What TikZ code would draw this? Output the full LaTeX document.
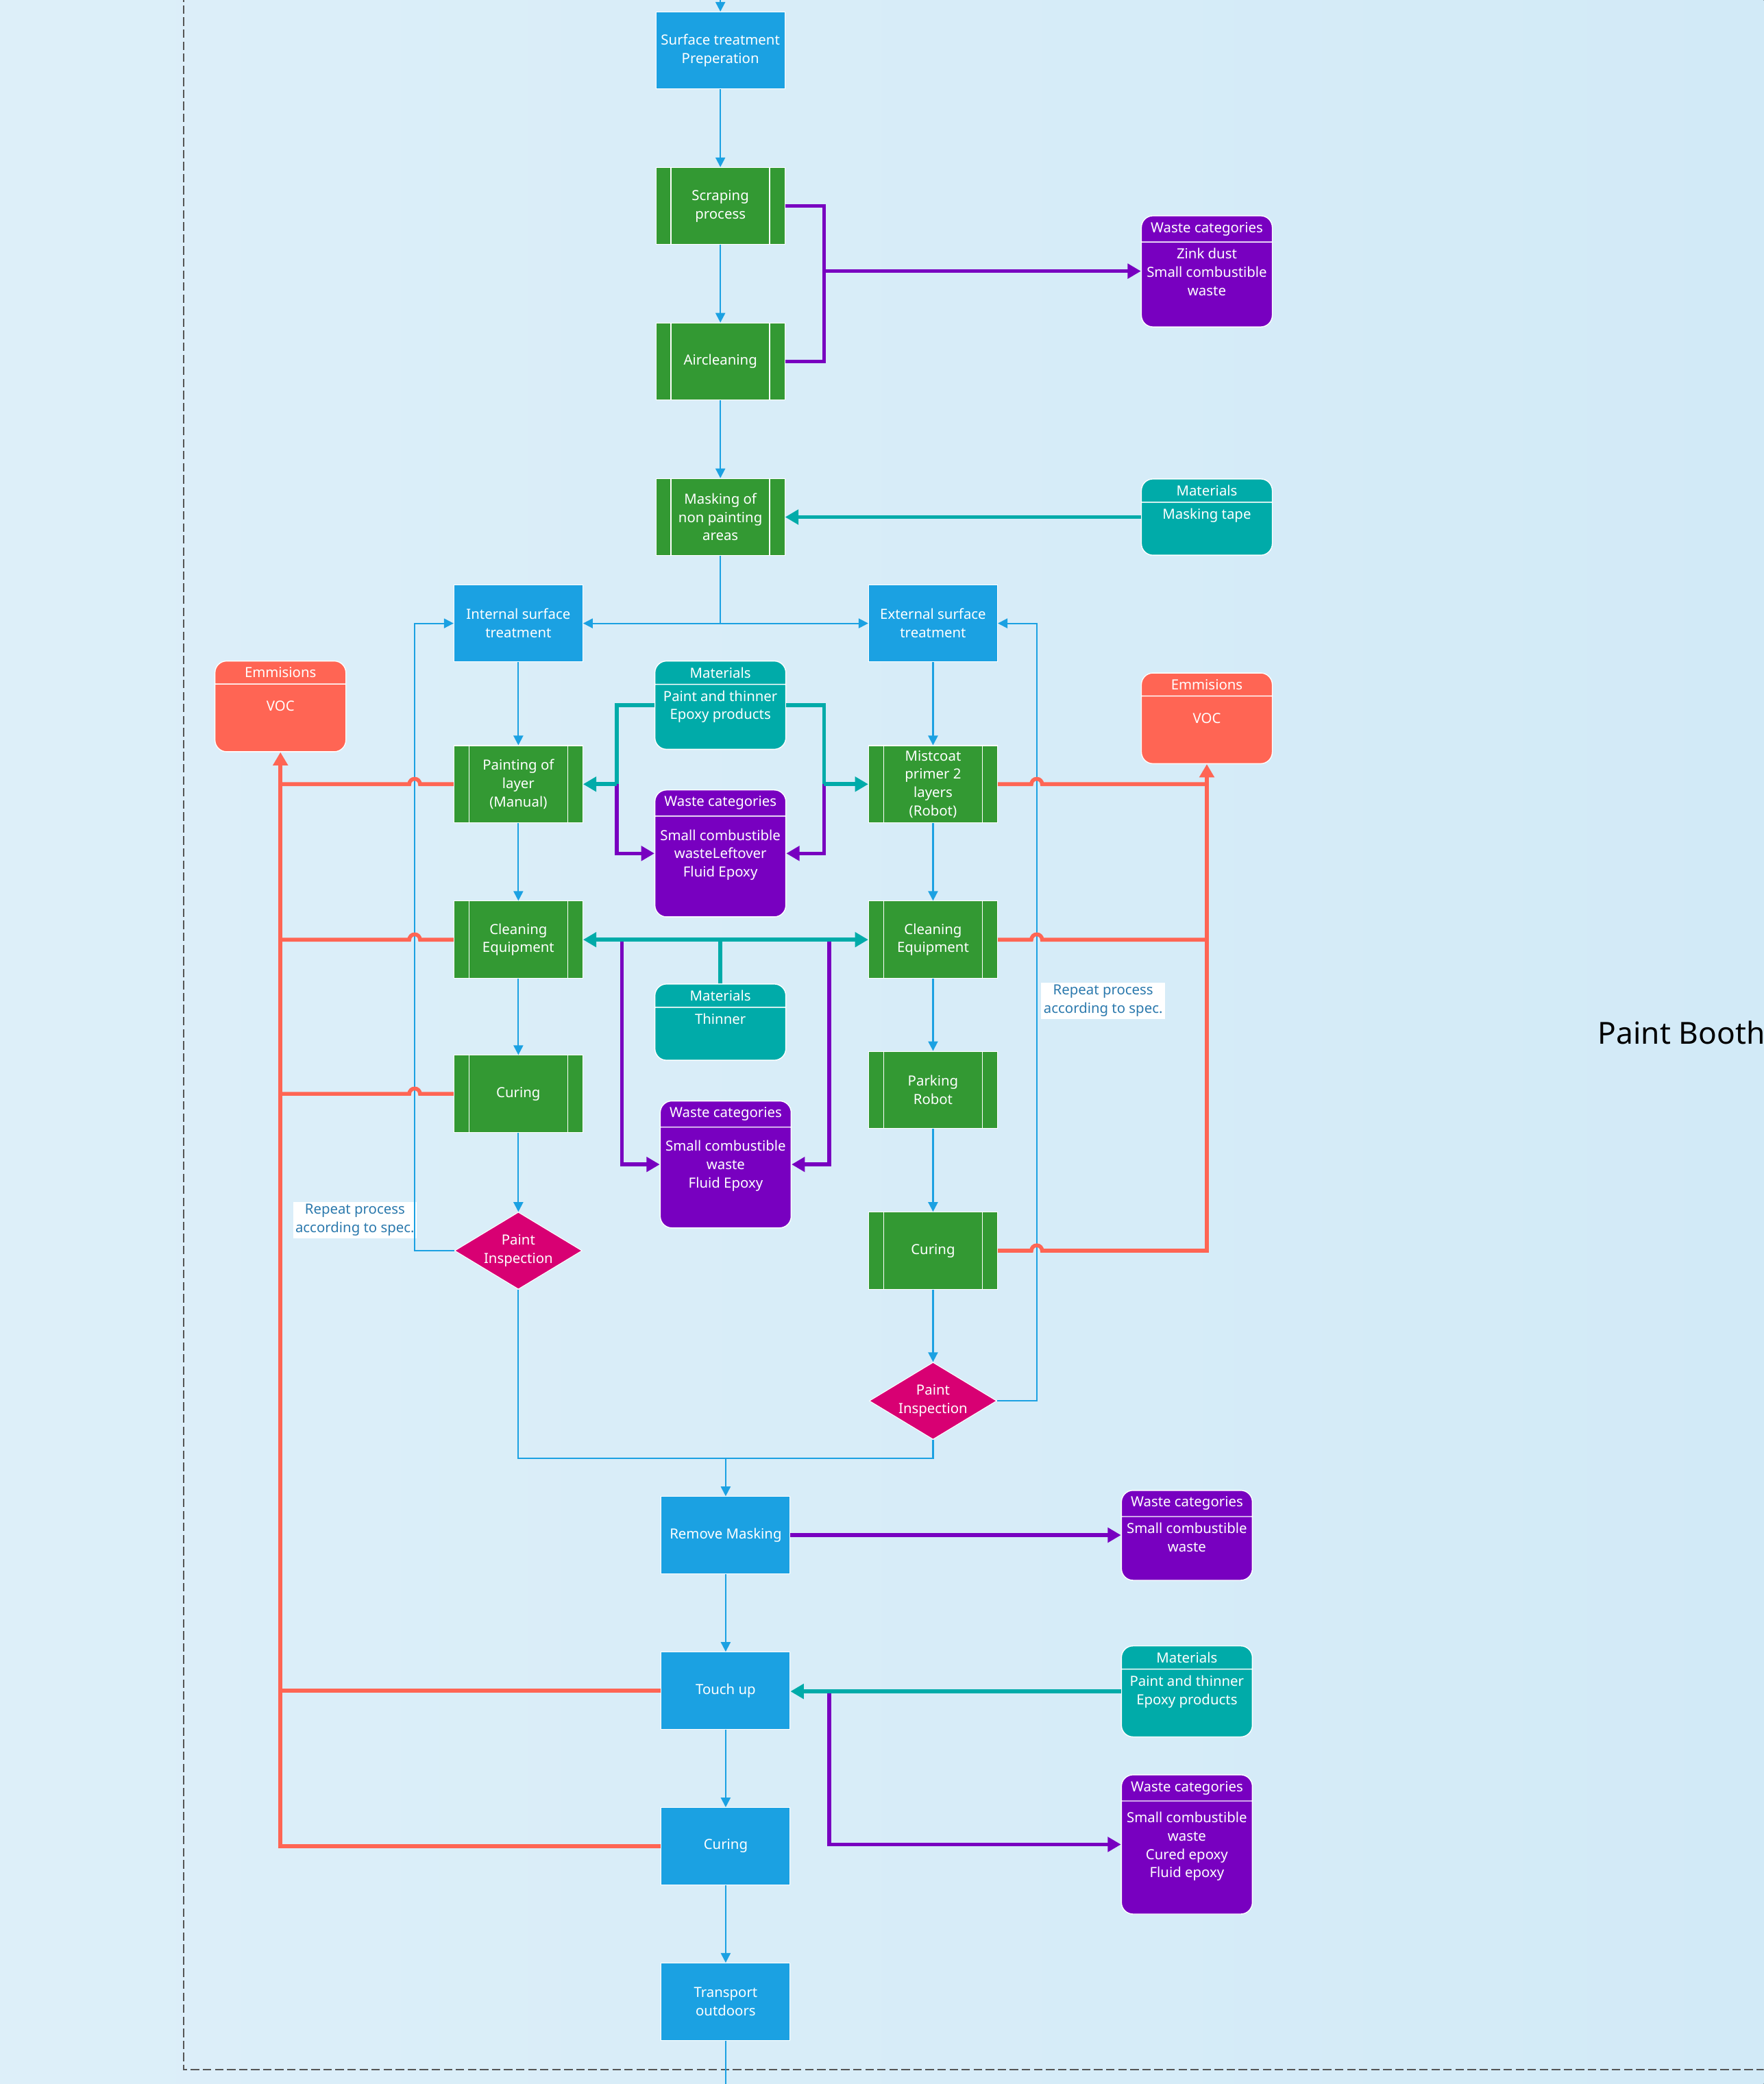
\documentclass[tikz,border=0pt]{standalone}
\usepackage{fontspec}
\setmainfont{Noto Sans}
\usepackage{xcolor}
\usepackage{tikz}
\usetikzlibrary{shapes.geometric, shapes.multipart, arrows.meta}

\definecolor{procblue}{HTML}{1BA1E2}
\definecolor{procgreen}{HTML}{339933}
\definecolor{wastepurple}{HTML}{7800C0}
\definecolor{matteal}{HTML}{00ABA9}
\definecolor{emired}{HTML}{FF6554}
\definecolor{inspmag}{HTML}{D80073}
\definecolor{flowblue}{HTML}{1BA1E2}
\definecolor{repeatblue}{HTML}{2B79AD}
\definecolor{bgleft}{HTML}{DDEFF9}
\definecolor{bgright}{HTML}{D2EAF7}
\definecolor{framegray}{HTML}{555555}

% body of a header box: fixed height, text on top
\newcommand{\partbody}[3][0pt]{\parbox[t][#2][t]{1.84cm}{\vspace*{#1}\centering #3}}

\begin{document}
\begin{tikzpicture}[
    x=0.01939cm, y=-0.01939cm,
    font=\fontsize{5.8}{7.6}\selectfont,
    bnode/.style={rectangle, draw=white, line width=0.3pt, fill=procblue, text=white, align=center, minimum width=1.88cm, minimum height=1.125cm, inner sep=1pt},
    gnode/.style={bnode, fill=procgreen, path picture={
        \draw[white, line width=0.4pt] ([xshift=0.22cm]path picture bounding box.north west) -- ([xshift=0.22cm]path picture bounding box.south west);
        \draw[white, line width=0.4pt] ([xshift=-0.22cm]path picture bounding box.north east) -- ([xshift=-0.22cm]path picture bounding box.south east);}},
    dnode/.style={diamond, draw=white, line width=0.3pt, fill=inspmag, text=white, align=center, minimum width=1.86cm, minimum height=1.125cm, inner sep=0pt, aspect=1.65},
    cnode/.style={rectangle split, rectangle split parts=2, rounded corners=0.17cm, draw=white, line width=0.4pt, text=white, align=center, minimum width=1.88cm, inner xsep=1pt, inner ysep=2.4pt, anchor=north},
    wnode/.style={cnode, fill=wastepurple},
    mnode/.style={cnode, fill=matteal},
    enode/.style={cnode, fill=emired},
    lbl/.style={rectangle, fill=white, text=repeatblue, align=center, inner sep=1pt},
    arr/.style={-{Triangle[width=4pt, length=4pt]}, color=flowblue, line width=0.6pt},
    fline/.style={color=flowblue, line width=0.6pt},
    parr/.style={-{Triangle[width=6pt, length=5.5pt]}, color=wastepurple, line width=1.6pt},
    pline/.style={color=wastepurple, line width=1.6pt},
    tarr/.style={-{Triangle[width=6pt, length=5.5pt]}, color=matteal, line width=1.6pt},
    tline/.style={color=matteal, line width=1.6pt},
    rarr/.style={-{Triangle[width=6pt, length=5.5pt]}, color=emired, line width=1.6pt},
    rline/.style={color=emired, line width=1.6pt}
]

% background and booth frame
\fill[left color=bgleft, right color=bgright] (0,0) rectangle (1327,1568);
\clip (0,0) rectangle (1327,1568);
\draw[framegray, line width=0.5pt, dash pattern=on 3.5pt off 1.5pt] (138,-5) -- (138,1557) -- (1335,1557);
\node[anchor=west, inner sep=0pt, font=\fontsize{12.6}{15}\selectfont, text=black] (booth) at (1202,777) {Paint Booth};

% main process
\node[bnode] (surf) at (542,38) {Surface treatment\\Preperation};
\node[gnode] (scrape) at (542,155) {Scraping\\process};
\node[gnode] (aircl) at (542,272) {Aircleaning};
\node[gnode] (mask) at (542,389) {Masking of\\non painting\\areas};
\node[bnode] (intS) at (390,469) {Internal surface\\treatment};
\node[bnode] (extS) at (702,469) {External surface\\treatment};
\node[gnode] (paintL) at (390,590) {Painting of\\layer\\(Manual)};
\node[gnode] (cleanL) at (390,707) {Cleaning\\Equipment};
\node[gnode] (cureL) at (390,823) {Curing};
\node[dnode] (inspL) at (390,941) {Paint\\Inspection};
\node[gnode] (mistR) at (702,590) {Mistcoat\\primer 2\\layers\\(Robot)};
\node[gnode] (cleanR) at (702,707) {Cleaning\\Equipment};
\node[gnode] (parkR) at (702,820) {Parking\\Robot};
\node[gnode] (cureR) at (702,941) {Curing};
\node[dnode] (inspR) at (702,1054) {Paint\\Inspection};
\node[bnode] (remove) at (546,1155) {Remove Masking};
\node[bnode] (touch) at (546,1272) {Touch up};
\node[bnode] (cureB) at (546,1389) {Curing};
\node[bnode] (transp) at (546,1506) {Transport\\outdoors};

% materials, waste and emissions
\node[wnode] (wasteZ) at (908,162) {Waste categories\nodepart{two}\partbody{1.057cm}{Zink dust\\Small combustible\\waste}};
\node[mnode] (matMask) at (908,360) {Materials\nodepart{two}\partbody{0.59cm}{Masking tape}};
\node[enode] (vocL) at (211,497) {Emmisions\nodepart{two}\partbody[4.5pt]{0.805cm}{VOC}};
\node[mnode] (matPT) at (542,497) {Materials\nodepart{two}\partbody{0.765cm}{Paint and thinner\\Epoxy products}};
\node[wnode] (wasteMid) at (542,594) {Waste categories\nodepart{two}\partbody[3pt]{1.287cm}{Small combustible\\wasteLeftover\\Fluid Epoxy}};
\node[enode] (vocR) at (908,506) {Emmisions\nodepart{two}\partbody[4.5pt]{0.805cm}{VOC}};
\node[mnode] (matTh) at (542,740) {Materials\nodepart{two}\partbody{0.59cm}{Thinner}};
\node[wnode] (wasteLow) at (546,828) {Waste categories\nodepart{two}\partbody[3pt]{1.287cm}{Small combustible\\waste\\Fluid Epoxy}};
\node[wnode, minimum width=1.86cm] (wasteRM) at (893,1121) {Waste categories\nodepart{two}\partbody{0.747cm}{Small combustible\\waste}};
\node[mnode, minimum width=1.86cm] (matTU) at (893,1238) {Materials\nodepart{two}\partbody{0.805cm}{Paint and thinner\\Epoxy products}};
\node[wnode, minimum width=1.86cm] (wasteTU) at (893,1335) {Waste categories\nodepart{two}\partbody[2pt]{1.467cm}{Small combustible\\waste\\Cured epoxy\\Fluid epoxy}};

\node[lbl] (repL) at (267,918) {Repeat process\\according to spec.};
\node[lbl] (repR) at (830,753) {Repeat process\\according to spec.};

% bends and junctions
\coordinate (topin) at (542,0);
\coordinate (botout) at (546,1568);
\coordinate (wbus) at (620,204);
\coordinate (retL) at (312,941);
\coordinate (retR) at (780,1054);
\coordinate (merge) at (546,1097);
\coordinate (jogL) at (464,590);
\coordinate (jogR) at (620,590);
\coordinate (thBus) at (542,707);
\coordinate (jogL2) at (468,707);
\coordinate (jogR2) at (624,707);
\coordinate (jogT) at (624,1272);
\coordinate (jumpL) at (316,0);
\coordinate (jumpR) at (776,0);

% process flow
\draw[arr] (topin) -- (surf);
\draw[arr] (surf) -- (scrape);
\draw[arr] (scrape) -- (aircl);
\draw[arr] (aircl) -- (mask);
\draw[arr] (mask.south) |- (intS.east);
\draw[arr] (mask.south) |- (extS.west);
\draw[arr] (intS) -- (paintL);
\draw[arr] (paintL) -- (cleanL);
\draw[arr] (cleanL) -- (cureL);
\draw[arr] (cureL) -- (inspL);
\draw[arr] (extS) -- (mistR);
\draw[arr] (mistR) -- (cleanR);
\draw[arr] (cleanR) -- (parkR);
\draw[arr] (parkR) -- (cureR);
\draw[arr] (cureR) -- (inspR);
\draw[arr] (inspL.west) -- (retL) |- (intS.west);
\draw[arr] (inspR.east) -- (retR) |- (extS.east);
\draw[fline] (inspL.south) |- (merge);
\draw[fline] (inspR.south) |- (merge);
\draw[arr] (merge) -- (remove);
\draw[arr] (remove) -- (touch);
\draw[arr] (touch) -- (cureB);
\draw[arr] (cureB) -- (transp);
\draw[fline] (transp) -- (botout);

% waste
\draw[pline] (scrape.east) -| (wbus);
\draw[pline] (aircl.east) -| (wbus);
\draw[parr] (wbus) -- (wbus -| wasteZ.west);
\draw[parr] (jogL) |- (wasteMid.west);
\draw[parr] (jogR) |- (wasteMid.east);
\draw[parr] (jogL2) |- (wasteLow.west);
\draw[parr] (jogR2) |- (wasteLow.east);
\draw[parr] (remove.east) -- (remove.east -| wasteRM.west);
\draw[parr] (jogT) |- (wasteTU.west);

% materials
\draw[tarr] (matMask.west) -- (matMask.west -| mask.east);
\draw[tline] (matPT.west) -| (jogL);
\draw[tarr] (jogL) -- (paintL.east);
\draw[tline] (matPT.east) -| (jogR);
\draw[tarr] (jogR) -- (mistR.west);
\draw[tline] (matTh.north) -- (thBus);
\draw[tarr] (thBus) -- (cleanL.east);
\draw[tarr] (thBus) -- (cleanR.west);
\draw[tarr] (matTU.west) -- (matTU.west -| touch.east);

% emissions
\draw[rline] (paintL.west) -- (paintL.west -| jumpL) arc[start angle=0, end angle=180, radius=0.078cm] -- (paintL.west -| vocL.south);
\draw[rline] (cleanL.west) -- (cleanL.west -| jumpL) arc[start angle=0, end angle=180, radius=0.078cm] -- (cleanL.west -| vocL.south);
\draw[rline] (cureL.west) -- (cureL.west -| jumpL) arc[start angle=0, end angle=180, radius=0.078cm] -- (cureL.west -| vocL.south);
\draw[rline] (touch.west) -- (touch.west -| vocL.south);
\draw[rarr] (cureB.west) -| (vocL.south);
\draw[rline] (mistR.east) -- (mistR.east -| jumpR) arc[start angle=180, end angle=0, radius=0.078cm] -- (mistR.east -| vocR.south);
\draw[rline] (cleanR.east) -- (cleanR.east -| jumpR) arc[start angle=180, end angle=0, radius=0.078cm] -- (cleanR.east -| vocR.south);
\draw[rarr] (cureR.east) -- (cureR.east -| jumpR) arc[start angle=180, end angle=0, radius=0.078cm] -| (vocR.south);

\end{tikzpicture}
\end{document}
